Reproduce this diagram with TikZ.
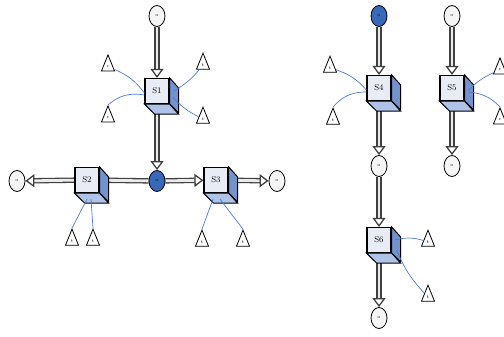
\documentclass[tikz,border=0pt]{standalone}
\usetikzlibrary{arrows.meta,shapes.geometric,backgrounds,calc}

\definecolor{cubefront}{HTML}{E8ECF4}
\definecolor{cubeside}{HTML}{7393CF}
\definecolor{cubebottom}{HTML}{AFC3E8}
\definecolor{wireblue}{HTML}{4F7CC8}
\definecolor{hubblue}{HTML}{3A68B8}

\tikzset{
  station/.style={draw, line width=1.2pt, fill=cubefront, minimum width=24pt,
    minimum height=25pt, inner sep=0pt, font=\fontsize{8.5}{8.5}\selectfont},
  port/.style={ellipse, draw, line width=0.8pt, fill=gray!8, minimum width=16pt,
    minimum height=21pt, inner sep=0pt, font=\fontsize{4.5}{4.5}\selectfont},
  hub/.style={port, fill=hubblue},
  sensor/.style={isosceles triangle, isosceles triangle stretches,
    shape border rotate=90, draw, line width=0.8pt, fill=white,
    minimum width=13pt, minimum height=16pt, inner sep=0pt,
    font=\fontsize{4.5}{4.5}\selectfont},
  pipe/.style={line width=1.3pt, draw=black!75, double=gray!15,
    double distance=2.8pt, -{Triangle[open, length=9pt, width=13pt]}},
  wire/.style={wireblue, line width=0.7pt},
  side/.style={draw, line width=1pt, fill=cubeside},
  bottom/.style={draw, line width=1pt, fill=cubebottom},
}

\begin{document}
\begin{tikzpicture}[x=1pt, y=-1pt]

    \useasboundingbox (0,0) rectangle (504,337);

    % Left group: stations S1, S2, S3 round the blue hub
    \node[port] (o1) at (157,16) {o};
    \node[station] (s1) at (157,91) {S1};
    \node[hub] (h1) at (157,181) {o};
    \node[station] (s2) at (87,180) {S2};
    \node[station] (s3) at (216,180) {S3};
    \node[port] (o2) at (17,181) {o};
    \node[port] (o3) at (277,181) {o};

    % Sensors of the left group
    \node[sensor] (c1) at (108,67) {c};
    \node[sensor] (c2) at (108,118) {c};
    \node[sensor] (t1) at (203,65) {t};
    \node[sensor] (t2) at (203,119) {t};
    \node[sensor] (t3) at (72,241) {t};
    \node[sensor] (t4) at (93,241) {t};
    \node[sensor] (t5) at (202,242) {t};
    \node[sensor] (t6) at (243,242) {t};

    % Right group: chain S4, S6 and the single S5
    \node[hub] (h2) at (379,16) {o};
    \node[station] (s4) at (379,88) {S4};
    \node[port] (o4) at (379,166) {o};
    \node[station] (s6) at (379,240) {S6};
    \node[port] (o5) at (379,318) {o};
    \node[port] (o6) at (452,16) {o};
    \node[station] (s5) at (452,88) {S5};
    \node[port] (o7) at (452,166) {o};

    % Sensors of the right group
    \node[sensor] (t7) at (330,68) {t};
    \node[sensor] (t8) at (333,120) {t};
    \node[sensor] (c3) at (500,70) {c};
    \node[sensor] (c4) at (500,120) {c};
    \node[sensor] (t9) at (428,242) {t};
    \node[sensor] (t10) at (428,297) {t};

    % Depth faces of the station cubes
    \foreach \s in {s1,s2,s3,s4,s5,s6} {
        \draw[side] (\s.north east) -- ++(9,10) -- ++(0,25) -- (\s.south east) -- cycle;
        \draw[bottom] (\s.south west) -- (\s.south east) -- ++(9,10) -- ++(-24,0) -- cycle;
    }

    % Pipes between ports and stations
    \begin{scope}[on background layer]
        \draw[pipe] (o1) -- (s1);
        \draw[pipe] (s1) -- (h1);
        \draw[pipe, -] (h1) -- (s2);
        \draw[pipe] (s2) -- (o2);
        \draw[pipe] (h1) -- (s3);
        \draw[pipe] (s3) -- (o3);
        \draw[pipe] (h2) -- (s4);
        \draw[pipe] (s4) -- (o4);
        \draw[pipe] (o4) -- (s6);
        \draw[pipe] (s6) -- (o5);
        \draw[pipe] (o6) -- (s5);
        \draw[pipe] (s5) -- (o7);
    \end{scope}

    % Sensor wires
    \draw[wire] (c1) to[bend left=15] ($(s1.west)+(0,2)$);
    \draw[wire] (c2.apex) to[bend left=25] ($(s1.west)+(0,4)$);
    \draw[wire] (t1) to[bend left=10] ($(s1.east)+(4,0)$);
    \draw[wire] (t2) to[bend left=10] ($(s1.east)+(3,6)$);
    \draw[wire] (t3.apex) -- ($(s2.south)+(0,6)$);
    \draw[wire] (t4.apex) -- ($(s2.south)+(4,6)$);
    \draw[wire] (t5.apex) -- ($(s3.south)+(-3,6)$);
    \draw[wire] (t6.apex) -- ($(s3.south)+(4,6)$);
    \draw[wire] (t7) to[bend left=15] ($(s4.west)+(0,2)$);
    \draw[wire] (t8.apex) to[bend left=25] ($(s4.west)+(0,4)$);
    \draw[wire] (c3) to[bend right=10] ($(s5.east)+(4,2)$);
    \draw[wire] (c4.apex) to[bend right=20] ($(s5.east)+(4,4)$);
    \draw[wire] (t9) to[bend right=15] ($(s6.east)+(3,0)$);
    \draw[wire] (t10) to[bend left=10] ($(s6.east)+(5,10)$);

\end{tikzpicture}
\end{document}
